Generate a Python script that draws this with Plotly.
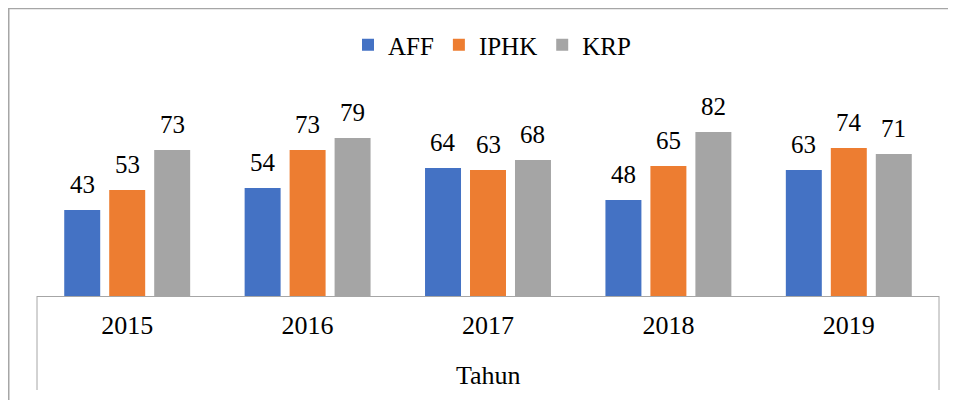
import plotly.graph_objects as go

years = ["2015", "2016", "2017", "2018", "2019"]
aff = [43, 54, 64, 48, 63]
iphk = [53, 73, 63, 65, 74]
krp = [73, 79, 68, 82, 71]

series_names = ["AFF", "IPHK", "KRP"]
series_vals = [aff, iphk, krp]
colors = ["#4472C4", "#ED7D31", "#A5A5A5"]

FONT = "Liberation Serif"
FS = 25
FS_AX = 26
# page offset (browser body margin = 8px)
OFF = 8
W, H = 948, 392
L, R, T, B = 29, 17, 88, 104
PW, PH = W - L - R, H - T - B
BARGAP, GROUPGAP = 0.252, 0.2

def px(x):
    return (x - OFF - L) / PW

def py(y):
    return (H - B - (y - OFF)) / PH

fig = go.Figure()
annotations = []
n = len(series_names)
slot = (1 - BARGAP) / n
for j, (name, vals, c) in enumerate(zip(series_names, series_vals, colors)):
    fig.add_trace(go.Bar(
        x=years, y=vals, name=name, marker=dict(color=c, line=dict(width=0)),
    ))
    for k, v in enumerate(vals):
        annotations.append(dict(
            x=k + (j - (n - 1) / 2) * slot, y=v, xref="x", yref="y",
            text=str(v), showarrow=False, xanchor="center", yanchor="bottom", yshift=10,
            font=dict(family=FONT, size=FS, color="#000")))

line_col = "#A6A6A6"
shapes = [
    dict(type="rect", xref="paper", yref="paper", x0=px(8.75), x1=px(970), y0=py(420), y1=py(8.6),
         line=dict(color=line_col, width=1.5), layer="below"),
    dict(type="line", xref="paper", yref="paper", x0=0, x1=0, y0=0, y1=py(390),
         line=dict(color=line_col, width=1)),
    dict(type="line", xref="paper", yref="paper", x0=1, x1=1, y0=0, y1=py(390),
         line=dict(color=line_col, width=1)),
]

annotations.append(dict(text="Tahun", xref="paper", yref="paper", x=0.5, y=py(375),
                        xanchor="center", yanchor="middle", showarrow=False,
                        font=dict(family=FONT, size=FS_AX, color="#000")))

fig.update_layout(
    width=W, height=H,
    margin=dict(l=L, r=R, t=T, b=B),
    paper_bgcolor="white", plot_bgcolor="white",
    barmode="group", bargap=BARGAP, bargroupgap=GROUPGAP,
    font=dict(family=FONT, size=FS, color="#000"),
    showlegend=True,
    legend=dict(orientation="h", x=px(492), xanchor="center", y=py(45), yanchor="middle",
                font=dict(family=FONT, size=FS, color="#000"), itemwidth=30,
                traceorder="normal"),
    xaxis=dict(showline=True, linecolor=line_col, linewidth=1, ticks="", showgrid=False,
               tickfont=dict(family=FONT, size=FS_AX, color="#000"), ticklabelstandoff=6),
    yaxis=dict(range=[0, 100], visible=False, showgrid=False),
    shapes=shapes,
    annotations=annotations,
)

fig.write_html("out.html")
